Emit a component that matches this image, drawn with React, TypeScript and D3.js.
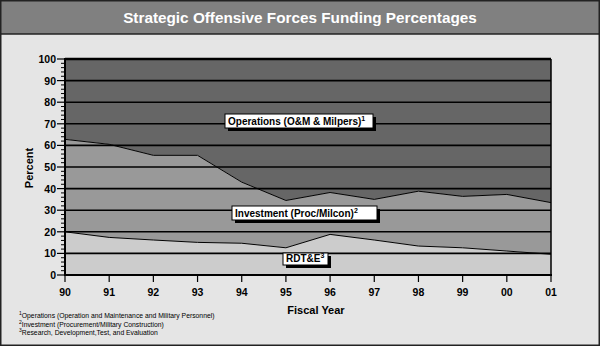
import React from "react";
import * as d3 from "d3";

const years = ["90", "91", "92", "93", "94", "95", "96", "97", "98", "99", "00", "01"];
// cumulative boundary: RDT&E share (bottom band)
const rdte = [20, 17.4, 16.2, 15.1, 14.7, 12.6, 18.8, 16.2, 13.4, 12.6, 11.1, 9.6];
// cumulative boundary: RDT&E + Investment
const rdteInv = [62.8, 60.5, 55.4, 55.4, 43, 34.5, 38.2, 35, 38.8, 36.4, 37.3, 33.5];
const yTicks = [0, 10, 20, 30, 40, 50, 60, 70, 80, 90, 100];
const footnotes = [
  { sup: "1", text: "Operations (Operation and Maintenance and Military Personnel)" },
  { sup: "2", text: "Investment (Procurement/Military Construction)" },
  { sup: "3", text: "Research, Development,Test, and Evaluation" },
];

const W = 600, H = 346;
const left = 65, right = 551, top = 59, bottom = 275;
const font = "'Liberation Sans', Arial, Helvetica, sans-serif";

function LabelBox({ x, y, w, h, text, sup, fs }: { x: number; y: number; w: number; h: number; text: string; sup: string; fs: number }) {
  return (
    <g>
      <rect x={x + 3} y={y + 3} width={w} height={h} fill="#000" />
      <rect x={x} y={y} width={w} height={h} fill="#fff" stroke="#000" strokeWidth={1} />
      <text x={x + 3} y={y + h - 3.5} fontFamily={font} fontWeight="bold" fontSize={fs} fill="#000">
        {text}
        <tspan fontSize={7} dy={-4}>{sup}</tspan>
      </text>
    </g>
  );
}

export default function App() {
  const x = d3.scalePoint<string>().domain(years).range([left, right]);
  const y = d3.scaleLinear().domain([0, 100]).range([bottom, top]);
  const idx = d3.range(years.length);

  const opsArea = d3.area<number>().x(i => x(years[i])!).y0(i => y(rdteInv[i])).y1(() => y(100));
  const invArea = d3.area<number>().x(i => x(years[i])!).y0(i => y(rdte[i])).y1(i => y(rdteInv[i]));
  const rdArea = d3.area<number>().x(i => x(years[i])!).y0(() => y(0)).y1(i => y(rdte[i]));
  const line1 = d3.line<number>().x(i => x(years[i])!).y(i => y(rdteInv[i]));
  const line2 = d3.line<number>().x(i => x(years[i])!).y(i => y(rdte[i]));
  const minor = d3.range(0, 101, 2).filter(v => v % 10 !== 0);

  return (
    <svg width={W} height={H} style={{ position: "absolute", left: 0, top: 0 }}>
      <rect x={0} y={0} width={W} height={H} fill="#e5e5e5" />
      <rect x={0} y={0} width={W} height={34} fill="#808080" />
      <line x1={0} x2={W} y1={34} y2={34} stroke="#222" strokeWidth={1.5} />
      <rect x={0.75} y={0.75} width={W - 1.5} height={H - 1.5} fill="none" stroke="#222" strokeWidth={1.5} />
      <text x={300} y={23} textAnchor="middle" fontFamily={font} fontWeight="bold" fontSize={15.3} fill="#fff">
        Strategic Offensive Forces Funding Percentages
      </text>

      <path d={opsArea(idx)!} fill="#666666" />
      <path d={invArea(idx)!} fill="#999999" />
      <path d={rdArea(idx)!} fill="#cccccc" />

      {yTicks.filter(v => v > 0).map(v => (
        <line key={v} x1={left} x2={right} y1={y(v)} y2={y(v)} stroke="#000" strokeWidth={v === 100 ? 2.5 : 1.6} />
      ))}
      <path d={line1(idx)!} fill="none" stroke="#000" strokeWidth={1} />
      <path d={line2(idx)!} fill="none" stroke="#000" strokeWidth={1} />

      <line x1={right} x2={right} y1={top} y2={bottom} stroke="#000" strokeWidth={1.5} />
      <line x1={left} x2={left} y1={top - 1} y2={bottom + 1} stroke="#000" strokeWidth={2} />
      <line x1={left - 1} x2={right + 1} y1={bottom} y2={bottom} stroke="#000" strokeWidth={2} />

      {yTicks.map(v => (
        <g key={v}>
          <line x1={left - 8} x2={left} y1={y(v)} y2={y(v)} stroke="#000" strokeWidth={1.2} />
          <text x={left - 9} y={y(v) + 4} textAnchor="end" fontFamily={font} fontWeight="bold" fontSize={10.5} fill="#000">
            {v}
          </text>
        </g>
      ))}
      {minor.map(v => (
        <line key={v} x1={left - 4} x2={left} y1={y(v)} y2={y(v)} stroke="#000" strokeWidth={1} />
      ))}
      {years.map(yr => (
        <g key={yr}>
          <line x1={x(yr)!} x2={x(yr)!} y1={bottom} y2={bottom + 7} stroke="#000" strokeWidth={1.2} />
          <text x={x(yr)!} y={296} textAnchor="middle" fontFamily={font} fontWeight="bold" fontSize={10.5} fill="#000">
            {yr}
          </text>
        </g>
      ))}

      <text transform="translate(33,168) rotate(-90)" textAnchor="middle" fontFamily={font} fontWeight="bold" fontSize={11} fill="#000">
        Percent
      </text>
      <text x={316} y={314} textAnchor="middle" fontFamily={font} fontWeight="bold" fontSize={11} fill="#000">
        Fiscal Year
      </text>

      <LabelBox x={225} y={114} w={148} h={14} fs={10} text="Operations (O&M & Milpers)" sup="1" />
      <LabelBox x={232} y={206} w={145} h={14} fs={10} text="Investment (Proc/Milcon)" sup="2" />
      <LabelBox x={283} y={253} w={45} h={12} fs={10} text="RDT&E" sup="3" />

      {footnotes.map((f, i) => (
        <text key={i} x={19} y={318 + i * 8.5} fontFamily={font} fontSize={6.8} fill="#000">
          <tspan fontSize={5} dy={-3}>{f.sup}</tspan>
          <tspan dy={3}>{f.text}</tspan>
        </text>
      ))}
    </svg>
  );
}
